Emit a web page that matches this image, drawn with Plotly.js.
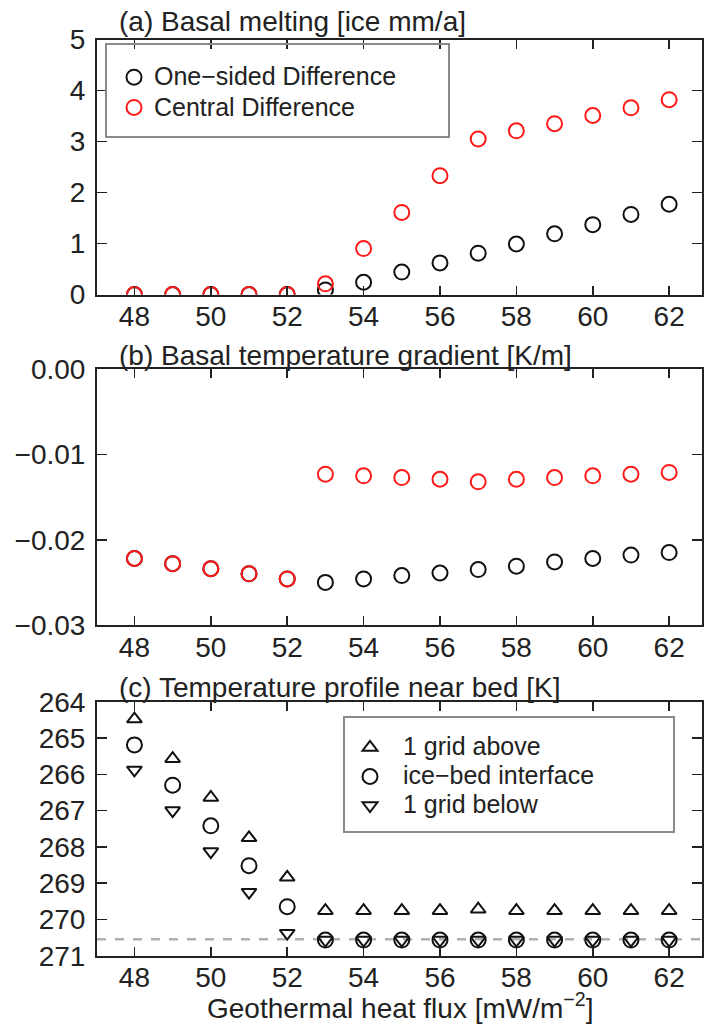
<!DOCTYPE html>
<html>
<head>
<meta charset="utf-8">
<script src="https://cdn.plot.ly/plotly-3.0.1.min.js"></script>
<style>html,body{margin:0;padding:0;background:#fff;}</style>
</head>
<body>
<div id="chart" style="width:704px;height:1030px;"></div>
<script>
// ---- data ----
const heatFlux = [48, 49, 50, 51, 52, 53, 54, 55, 56, 57, 58, 59, 60, 61, 62];

const meltOneSided = [0, 0, 0, 0, 0, 0.09, 0.24, 0.44, 0.62, 0.81, 0.99, 1.19, 1.37, 1.57, 1.77];
const meltCentral  = [0, 0, 0, 0, 0, 0.21, 0.90, 1.61, 2.33, 3.05, 3.21, 3.35, 3.51, 3.66, 3.82];

const gradOneSided = [-0.0222, -0.0228, -0.0234, -0.0240, -0.0246, -0.0250, -0.0246, -0.0242, -0.0239, -0.0235, -0.0231, -0.0226, -0.0222, -0.0218, -0.0215];
const gradCentral  = [-0.0222, -0.0228, -0.0234, -0.0240, -0.0246, -0.0123, -0.0125, -0.0127, -0.0129, -0.0132, -0.0129, -0.0127, -0.0125, -0.0123, -0.0121];

const tempAbove     = [264.48, 265.57, 266.64, 267.75, 268.84, 269.76, 269.76, 269.76, 269.76, 269.72, 269.76, 269.76, 269.76, 269.76, 269.76];
const tempInterface = [265.19, 266.30, 267.42, 268.52, 269.65, 270.57, 270.57, 270.57, 270.57, 270.57, 270.57, 270.57, 270.57, 270.57, 270.57];
const tempBelow     = [265.88, 267.00, 268.13, 269.25, 270.38, 270.57, 270.57, 270.57, 270.57, 270.57, 270.57, 270.57, 270.57, 270.57, 270.57];
const meltingPoint  = 270.55;

const xTicks = [48, 50, 52, 54, 56, 58, 60, 62];
const yTicksA = [0, 1, 2, 3, 4, 5];
const yTicksB = [0, -0.01, -0.02, -0.03];
const yTicksC = [264, 265, 266, 267, 268, 269, 270, 271];

const panelTitles = [
  '(a) Basal melting [ice mm/a]',
  '(b) Basal temperature gradient [K/m]',
  '(c) Temperature profile near bed [K]'
];
const xTitle = 'Geothermal heat flux [mW/m<sup>\u22122</sup>]';
const seriesNames = ['One\u2212sided Difference', 'Central Difference', '1 grid above', 'ice\u2212bed interface', '1 grid below'];

// ---- styling ----
const FONT = 'Liberation Sans, Arial, Helvetica, sans-serif';
const BLACK = '#111111';
const RED = '#ff1a1a';
const H = 1030;
const px = v => 1 - v / H;
const big = s => '<span style="font-size:25px">' + s + '</span>';

function mk(x, y, name, color, symbol, xa, ya, legend, size) {
  return {
    type: 'scatter', mode: 'markers', x: x, y: y, name: big(name),
    xaxis: xa, yaxis: ya, legend: legend || 'legend', showlegend: !!legend,
    marker: {symbol: symbol, size: size || 15, color: color, line: {color: color, width: 2}}
  };
}

const traces = [
  mk(heatFlux, meltOneSided, seriesNames[0], BLACK, 'circle-open', 'x', 'y', 'legend'),
  mk(heatFlux, meltCentral, seriesNames[1], RED, 'circle-open', 'x', 'y', 'legend'),
  mk(heatFlux, gradOneSided, seriesNames[0], BLACK, 'circle-open', 'x2', 'y2', null),
  mk(heatFlux, gradCentral, seriesNames[1], RED, 'circle-open', 'x2', 'y2', null),
  mk(heatFlux, tempAbove, seriesNames[2], BLACK, 'triangle-up-open', 'x3', 'y3', 'legend2', 13),
  mk(heatFlux, tempInterface, seriesNames[3], BLACK, 'circle-open', 'x3', 'y3', 'legend2', 15),
  mk(heatFlux, tempBelow, seriesNames[4], BLACK, 'triangle-down-open', 'x3', 'y3', 'legend2', 13)
];

const tickFont = {family: FONT, size: 28, color: '#222'};
function xax(anchor) {
  return {
    anchor: anchor, range: [47.02, 62.86], tickvals: xTicks, ticktext: xTicks.map(String),
    ticks: 'inside', ticklen: 9, tickwidth: 1.5, tickcolor: '#222',
    showline: true, linecolor: '#222', linewidth: 2, mirror: 'ticks',
    showgrid: false, zeroline: false, tickfont: tickFont, ticklabelstandoff: -4
  };
}
function yax(anchor, domain, range, vals, fmt) {
  return {
    anchor: anchor, domain: domain, range: range, tickvals: vals,
    ticktext: vals.map(v => fmt(v)),
    ticks: 'inside', ticklen: 10, tickwidth: 1.5, tickcolor: '#222',
    showline: true, linecolor: '#222', linewidth: 2, mirror: 'ticks',
    showgrid: false, zeroline: false, tickfont: tickFont, ticklabelstandoff: 4
  };
}
const minus = s => s.replace('-', '\u2212');

const layout = {
  width: 704, height: 1030,
  margin: {l: 97, r: 2, t: 0, b: 0},
  paper_bgcolor: '#fff', plot_bgcolor: '#fff',
  font: {family: FONT, size: 28, color: '#222'},
  xaxis: xax('y'),
  xaxis2: xax('y2'),
  xaxis3: xax('y3'),
  yaxis: yax('x', [px(294.5), px(39.5)], [0, 5], yTicksA, v => String(v)),
  yaxis2: yax('x2', [px(625), px(369.3)], [-0.03, 0], yTicksB, v => minus(v.toFixed(2))),
  yaxis3: yax('x3', [px(955.7), px(701.7)], [271, 264], yTicksC, v => String(v)),
  legend: {
    x: (114 - 97) / 605, xanchor: 'left', y: px(57), yanchor: 'top',
    bgcolor: 'rgba(0,0,0,0)', borderwidth: 0,
    font: {family: FONT, size: 21, color: '#222'}, itemwidth: 30
  },
  legend2: {
    x: (337 - 97) / 605, xanchor: 'left', y: px(728), yanchor: 'top',
    bgcolor: 'rgba(0,0,0,0)', borderwidth: 0,
    font: {family: FONT, size: 20, color: '#222'}, itemwidth: 56, tracegroupgap: 0
  },
  shapes: [
    {type: 'rect', xref: 'paper', yref: 'paper', x0: (106 - 97) / 605, x1: (449 - 97) / 605,
     y0: px(137), y1: px(44), line: {color: '#8a8a8a', width: 2}, fillcolor: 'rgba(0,0,0,0)'},
    {type: 'rect', xref: 'paper', yref: 'paper', x0: (344 - 97) / 605, x1: (674 - 97) / 605,
     y0: px(832), y1: px(717), line: {color: '#8a8a8a', width: 2}, fillcolor: 'rgba(0,0,0,0)'},
    {type: 'line', xref: 'x3 domain', yref: 'y3', x0: 0, x1: 1, y0: meltingPoint, y1: meltingPoint,
     line: {color: '#b0b0b0', width: 2.5, dash: 'dash'}, layer: 'below'}
  ],
  annotations: [
    {text: panelTitles[0], xref: 'paper', yref: 'paper', x: (117 - 97) / 605, y: px(21), xanchor: 'left', yanchor: 'middle', showarrow: false, font: {family: FONT, size: 28, color: '#222'}},
    {text: panelTitles[1], xref: 'paper', yref: 'paper', x: (117 - 97) / 605, y: px(355), xanchor: 'left', yanchor: 'middle', showarrow: false, font: {family: FONT, size: 28, color: '#222'}},
    {text: panelTitles[2], xref: 'paper', yref: 'paper', x: (117 - 97) / 605, y: px(687), xanchor: 'left', yanchor: 'middle', showarrow: false, font: {family: FONT, size: 28, color: '#222'}},
    {text: xTitle, xref: 'paper', yref: 'paper', x: 0.5, y: px(1006), xanchor: 'center', yanchor: 'middle', showarrow: false, font: {family: FONT, size: 28, color: '#222'}}
  ]
};

Plotly.newPlot('chart', traces, layout, {displayModeBar: false, staticPlot: true});
</script>
</body>
</html>
